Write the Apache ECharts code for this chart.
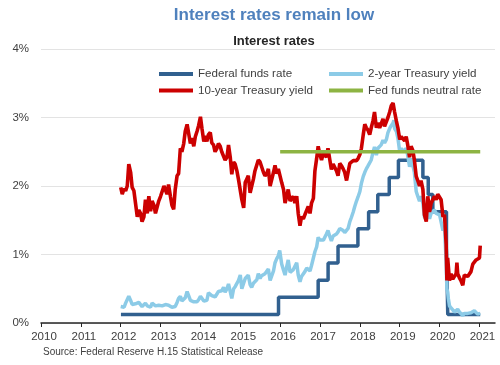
<!DOCTYPE html>
<html><head><meta charset="utf-8">
<script src="https://cdn.jsdelivr.net/npm/echarts@6/dist/echarts.min.js"></script>
<style>html,body{margin:0;padding:0;background:#fff}#c{width:500px;height:365px}</style>
</head><body><div id="c"></div>
<script>
const yearTicks = [2010,2011,2012,2013,2014,2015,2016,2017,2018,2019,2020,2021];
const yTicks = [0,1,2,3,4];
const seriesNames = ['Federal funds rate','2-year Treasury yield','10-year Treasury yield','Fed funds neutral rate'];

const fedFunds = [
['2012-01-03',0.125],['2015-12-17',0.375],['2016-12-15',0.625],['2017-03-16',0.875],['2017-06-15',1.125],
['2017-12-14',1.375],['2018-03-22',1.625],['2018-06-14',1.875],['2018-09-27',2.125],['2018-12-20',2.375],
['2019-08-01',2.125],['2019-09-19',1.875],['2019-10-31',1.625],['2020-03-04',1.125],['2020-03-16',0.125],['2021-01-08',0.125]
];

const neutralRate = [['2016-01-01',2.5],['2021-01-08',2.5]];

const tenYear = [
['2012-01-01',1.98],['2012-01-15',1.88],['2012-02-01',1.96],['2012-02-15',1.93],['2012-03-01',2.00],['2012-03-15',2.32],['2012-04-01',2.20],['2012-04-15',1.98],['2012-05-01',1.93],['2012-05-15',1.76],['2012-06-01',1.55],['2012-06-15',1.65],['2012-07-01',1.60],['2012-07-15',1.48],['2012-08-01',1.55],['2012-08-15',1.80],['2012-09-01',1.60],['2012-09-15',1.85],['2012-10-01',1.63],['2012-10-15',1.78],['2012-11-01',1.72],['2012-11-15',1.60],['2012-12-01',1.62],['2012-12-15',1.78],
['2013-01-01',1.85],['2013-01-15',1.87],['2013-02-01',2.00],['2013-02-15',2.00],['2013-03-01',1.88],['2013-03-15',2.02],['2013-04-01',1.85],['2013-04-15',1.72],['2013-05-01',1.66],['2013-05-15',1.95],['2013-06-01',2.15],['2013-06-15',2.18],['2013-07-01',2.55],['2013-07-15',2.50],['2013-08-01',2.62],['2013-08-15',2.80],['2013-09-01',2.90],['2013-09-15',2.88],['2013-10-01',2.62],['2013-10-15',2.70],['2013-11-01',2.58],['2013-11-15',2.72],['2013-12-01',2.80],['2013-12-15',2.88],
['2014-01-01',3.01],['2014-01-15',2.84],['2014-02-01',2.65],['2014-02-15',2.73],['2014-03-01',2.65],['2014-03-15',2.75],['2014-04-01',2.78],['2014-04-15',2.63],['2014-05-01',2.60],['2014-05-15',2.50],['2014-06-01',2.55],['2014-06-15',2.62],['2014-07-01',2.58],['2014-07-15',2.50],['2014-08-01',2.50],['2014-08-15',2.38],['2014-09-01',2.42],['2014-09-15',2.60],['2014-10-01',2.42],['2014-10-15',2.17],['2014-11-01',2.35],['2014-11-15',2.32],['2014-12-01',2.22],['2014-12-15',2.10],
['2015-01-01',2.12],['2015-01-15',1.80],['2015-02-01',1.68],['2015-02-15',2.05],['2015-03-01',2.10],['2015-03-15',2.15],['2015-04-01',1.90],['2015-04-15',1.88],['2015-05-01',2.10],['2015-05-15',2.22],['2015-06-01',2.20],['2015-06-15',2.38],['2015-07-01',2.35],['2015-07-15',2.35],['2015-08-01',2.20],['2015-08-15',2.15],['2015-09-01',2.18],['2015-09-15',2.25],['2015-10-01',2.00],['2015-10-15',2.02],['2015-11-01',2.20],['2015-11-15',2.30],['2015-12-01',2.18],['2015-12-15',2.25],
['2016-01-01',2.27],['2016-01-15',2.05],['2016-02-01',1.95],['2016-02-15',1.75],['2016-03-01',1.85],['2016-03-15',1.95],['2016-04-01',1.78],['2016-04-15',1.78],['2016-05-01',1.85],['2016-05-15',1.75],['2016-06-01',1.85],['2016-06-15',1.60],['2016-07-01',1.42],['2016-07-15',1.55],['2016-08-01',1.52],['2016-08-15',1.58],['2016-09-01',1.58],['2016-09-15',1.70],['2016-10-01',1.60],['2016-10-15',1.75],['2016-11-01',1.82],['2016-11-15',2.22],['2016-12-01',2.40],['2016-12-15',2.58],
['2017-01-01',2.45],['2017-01-15',2.38],['2017-02-01',2.48],['2017-02-15',2.45],['2017-03-01',2.42],['2017-03-15',2.55],['2017-04-01',2.38],['2017-04-15',2.24],['2017-05-01',2.32],['2017-05-15',2.30],['2017-06-01',2.22],['2017-06-15',2.15],['2017-07-01',2.33],['2017-07-15',2.30],['2017-08-01',2.25],['2017-08-15',2.20],['2017-09-01',2.08],['2017-09-15',2.20],['2017-10-01',2.33],['2017-10-15',2.35],['2017-11-01',2.37],['2017-11-15',2.35],['2017-12-01',2.37],['2017-12-15',2.40],
['2018-01-01',2.46],['2018-01-15',2.55],['2018-02-01',2.75],['2018-02-15',2.90],['2018-03-01',2.85],['2018-03-15',2.82],['2018-04-01',2.75],['2018-04-15',2.85],['2018-05-01',2.95],['2018-05-15',3.08],['2018-06-01',2.85],['2018-06-15',2.92],['2018-07-01',2.85],['2018-07-15',2.85],['2018-08-01',2.98],['2018-08-15',2.87],['2018-09-01',2.85],['2018-09-15',3.00],['2018-10-01',3.08],['2018-10-15',3.17],['2018-11-01',3.21],['2018-11-15',3.08],['2018-12-01',2.95],['2018-12-15',2.85],
['2019-01-01',2.68],['2019-01-15',2.72],['2019-02-01',2.70],['2019-02-15',2.66],['2019-03-01',2.72],['2019-03-15',2.60],['2019-04-01',2.42],['2019-04-15',2.58],['2019-05-01',2.52],['2019-05-15',2.38],['2019-06-01',2.14],['2019-06-15',2.08],['2019-07-01',2.00],['2019-07-15',2.08],['2019-08-01',1.95],['2019-08-15',1.58],['2019-09-01',1.48],['2019-09-15',1.85],['2019-10-01',1.62],['2019-10-15',1.75],['2019-11-01',1.75],['2019-11-15',1.85],['2019-12-01',1.80],['2019-12-15',1.88],
['2020-01-01',1.90],['2020-01-15',1.80],['2020-02-01',1.55],['2020-02-15',1.58],['2020-03-01',1.15],['2020-03-08',0.62],['2020-03-15',0.95],['2020-04-01',0.62],['2020-04-15',0.72],['2020-05-01',0.64],['2020-05-15',0.66],['2020-06-01',0.72],['2020-06-08',0.88],['2020-06-15',0.72],['2020-07-01',0.66],['2020-07-15',0.62],['2020-08-01',0.55],['2020-08-15',0.70],['2020-09-01',0.68],['2020-09-15',0.68],['2020-10-01',0.70],['2020-10-15',0.75],['2020-11-01',0.86],['2020-11-15',0.88],['2020-12-01',0.92],['2020-12-15',0.93],
['2021-01-01',0.95],['2021-01-08',1.13]
];

const twoYear = [
['2012-01-01',0.24],['2012-01-15',0.22],['2012-02-01',0.23],['2012-02-15',0.29],['2012-03-01',0.30],['2012-03-15',0.39],['2012-04-01',0.33],['2012-04-15',0.27],['2012-05-01',0.26],['2012-05-15',0.28],['2012-06-01',0.26],['2012-06-15',0.30],['2012-07-01',0.28],['2012-07-15',0.24],['2012-08-01',0.23],['2012-08-15',0.29],['2012-09-01',0.25],['2012-09-15',0.26],['2012-10-01',0.23],['2012-10-15',0.29],['2012-11-01',0.28],['2012-11-15',0.25],['2012-12-01',0.25],['2012-12-15',0.26],
['2013-01-01',0.27],['2013-01-15',0.25],['2013-02-01',0.27],['2013-02-15',0.27],['2013-03-01',0.25],['2013-03-15',0.26],['2013-04-01',0.24],['2013-04-15',0.23],['2013-05-01',0.21],['2013-05-15',0.24],['2013-06-01',0.30],['2013-06-15',0.36],['2013-07-01',0.39],['2013-07-15',0.32],['2013-08-01',0.33],['2013-08-15',0.37],['2013-09-01',0.46],['2013-09-15',0.40],['2013-10-01',0.33],['2013-10-15',0.35],['2013-11-01',0.31],['2013-11-15',0.29],['2013-12-01',0.31],['2013-12-15',0.34],
['2014-01-01',0.39],['2014-01-15',0.37],['2014-02-01',0.32],['2014-02-15',0.33],['2014-03-01',0.33],['2014-03-15',0.44],['2014-04-01',0.44],['2014-04-15',0.40],['2014-05-01',0.42],['2014-05-15',0.38],['2014-06-01',0.40],['2014-06-15',0.46],['2014-07-01',0.47],['2014-07-15',0.47],['2014-08-01',0.52],['2014-08-15',0.45],['2014-09-01',0.50],['2014-09-15',0.57],['2014-10-01',0.56],['2014-10-15',0.36],['2014-11-01',0.50],['2014-11-15',0.53],['2014-12-01',0.52],['2014-12-15',0.62],
['2015-01-01',0.70],['2015-01-15',0.50],['2015-02-01',0.50],['2015-02-15',0.65],['2015-03-01',0.65],['2015-03-15',0.70],['2015-04-01',0.56],['2015-04-15',0.52],['2015-05-01',0.58],['2015-05-15',0.58],['2015-06-01',0.63],['2015-06-15',0.72],['2015-07-01',0.65],['2015-07-15',0.69],['2015-08-01',0.70],['2015-08-15',0.72],['2015-09-01',0.74],['2015-09-15',0.79],['2015-10-01',0.62],['2015-10-15',0.61],['2015-11-01',0.76],['2015-11-15',0.88],['2015-12-01',0.94],['2015-12-15',0.98],['2015-12-28',1.06],
['2016-01-01',1.05],['2016-01-15',0.86],['2016-02-01',0.77],['2016-02-15',0.70],['2016-03-01',0.82],['2016-03-15',0.92],['2016-04-01',0.74],['2016-04-15',0.75],['2016-05-01',0.78],['2016-05-15',0.80],['2016-06-01',0.88],['2016-06-15',0.70],['2016-07-01',0.60],['2016-07-15',0.68],['2016-08-01',0.66],['2016-08-15',0.75],['2016-09-01',0.80],['2016-09-15',0.78],['2016-10-01',0.76],['2016-10-15',0.84],['2016-11-01',0.84],['2016-11-15',1.04],['2016-12-01',1.11],['2016-12-15',1.25],
['2017-01-01',1.21],['2017-01-15',1.20],['2017-02-01',1.21],['2017-02-15',1.20],['2017-03-01',1.30],['2017-03-15',1.35],['2017-04-01',1.26],['2017-04-15',1.20],['2017-05-01',1.27],['2017-05-15',1.28],['2017-06-01',1.30],['2017-06-15',1.33],['2017-07-01',1.38],['2017-07-15',1.36],['2017-08-01',1.35],['2017-08-15',1.32],['2017-09-01',1.30],['2017-09-15',1.38],['2017-10-01',1.48],['2017-10-15',1.54],['2017-11-01',1.62],['2017-11-15',1.70],['2017-12-01',1.78],['2017-12-15',1.84],
['2018-01-01',1.92],['2018-01-15',2.04],['2018-02-01',2.14],['2018-02-15',2.20],['2018-03-01',2.25],['2018-03-15',2.29],['2018-04-01',2.29],['2018-04-15',2.38],['2018-05-01',2.49],['2018-05-15',2.57],['2018-06-01',2.45],['2018-06-15',2.55],['2018-07-01',2.55],['2018-07-15',2.60],['2018-08-01',2.67],['2018-08-15',2.63],['2018-09-01',2.68],['2018-09-15',2.78],['2018-10-01',2.84],['2018-10-15',2.88],['2018-11-01',2.92],['2018-11-08',2.96],['2018-11-15',2.84],['2018-12-01',2.80],['2018-12-15',2.70],
['2019-01-01',2.50],['2019-01-15',2.55],['2019-02-01',2.50],['2019-02-15',2.50],['2019-03-01',2.55],['2019-03-15',2.45],['2019-04-01',2.28],['2019-04-15',2.40],['2019-05-01',2.30],['2019-05-15',2.20],['2019-06-01',1.92],['2019-06-15',1.85],['2019-07-01',1.78],['2019-07-15',1.85],['2019-08-01',1.75],['2019-08-15',1.55],['2019-09-01',1.50],['2019-09-15',1.72],['2019-10-01',1.52],['2019-10-15',1.60],['2019-11-01',1.58],['2019-11-15',1.65],['2019-12-01',1.60],['2019-12-15',1.62],
['2020-01-01',1.58],['2020-01-15',1.56],['2020-02-01',1.35],['2020-02-15',1.42],['2020-03-01',0.90],['2020-03-08',0.50],['2020-03-15',0.45],['2020-03-22',0.35],['2020-04-01',0.25],['2020-04-15',0.22],['2020-05-01',0.19],['2020-05-15',0.16],['2020-06-01',0.17],['2020-06-15',0.20],['2020-07-01',0.16],['2020-07-15',0.15],['2020-08-01',0.11],['2020-08-15',0.14],['2020-09-01',0.13],['2020-09-15',0.14],['2020-10-01',0.13],['2020-10-15',0.15],['2020-11-01',0.16],['2020-11-15',0.18],['2020-12-01',0.16],['2020-12-15',0.13],
['2021-01-01',0.12],['2021-01-08',0.14]
];

function toYear(s){
  const d = new Date(s + 'T00:00:00Z');
  const y = d.getUTCFullYear();
  const start = Date.UTC(y,0,1), end = Date.UTC(y+1,0,1);
  return y + (d.getTime() - start) / (end - start);
}
const conv = arr => arr.map(p => [toYear(p[0]), p[1]]);

const FONT = '"Liberation Sans", Arial, sans-serif';
const colors = ['#31608f','#8ccbe7','#cc0000','#8db443'];

const chart = echarts.init(document.getElementById('c'), null, {renderer:'canvas'});
chart.setOption({
  animation:false,
  backgroundColor:'#fff',
  textStyle:{fontFamily:FONT},
  title:[
    {text:'Interest rates remain low', left:269, top:2, textAlign:'center',
     textStyle:{fontFamily:FONT, fontSize:17, fontWeight:'bold', color:'#4f81bd'}},
    {text:'Interest rates', left:269, top:30, textAlign:'center',
     textStyle:{fontFamily:FONT, fontSize:13, fontWeight:'bold', color:'#262626'}}
  ],
  legend:[
    {data:[seriesNames[0], seriesNames[2]], orient:'vertical', left:154, top:63, itemGap:4.5,
     itemWidth:34, itemHeight:4, icon:'rect',
     textStyle:{fontFamily:FONT, fontSize:11.6, color:'#404040'}},
    {data:[seriesNames[1], seriesNames[3]], orient:'vertical', left:324, top:63, itemGap:4.5,
     itemWidth:34, itemHeight:4, icon:'rect',
     textStyle:{fontFamily:FONT, fontSize:11.6, color:'#404040'}}
  ],
  grid:{left:41, right:5, top:49, bottom:42, containLabel:false},
  xAxis:{
    type:'value', min:2010, max:2021.39, interval:1,
    axisLine:{show:true, onZero:false, lineStyle:{color:'#262626', width:1.5}},
    axisTick:{show:true, length:4, customValues:yearTicks, lineStyle:{color:'#262626'}},
    axisLabel:{customValues:yearTicks, formatter:v=>String(Math.round(v)), fontFamily:FONT, fontSize:11.5, color:'#404040', margin:8, padding:[0,0,0,6]},
    splitLine:{show:false}
  },
  yAxis:{
    type:'value', min:0, max:4, interval:1,
    axisLine:{show:false}, axisTick:{show:false},
    axisLabel:{formatter:'{value}%', fontFamily:FONT, fontSize:11.5, color:'#404040', margin:12},
    splitLine:{lineStyle:{color:'#e3e3e3', width:1}}
  },
  graphic:[
    {type:'text', left:43, top:347, style:{text:'Source: Federal Reserve H.15 Statistical Release', font:'10px "Liberation Sans", Arial, sans-serif', fill:'#404040'}}
  ],
  series:[
    {name:seriesNames[0], type:'line', step:'end', data:conv(fedFunds), showSymbol:false, symbol:'none',
     color:colors[0], lineStyle:{color:colors[0], width:3.5}, z:2},
    {name:seriesNames[1], type:'line', data:conv(twoYear), showSymbol:false, symbol:'none',
     color:colors[1], lineStyle:{color:colors[1], width:3.5}, z:3},
    {name:seriesNames[2], type:'line', data:conv(tenYear), showSymbol:false, symbol:'none',
     color:colors[2], lineStyle:{color:colors[2], width:3.6}, z:4},
    {name:seriesNames[3], type:'line', data:conv(neutralRate), showSymbol:false, symbol:'none',
     color:colors[3], lineStyle:{color:colors[3], width:3.5}, z:5}
  ]
});
</script></body></html>
